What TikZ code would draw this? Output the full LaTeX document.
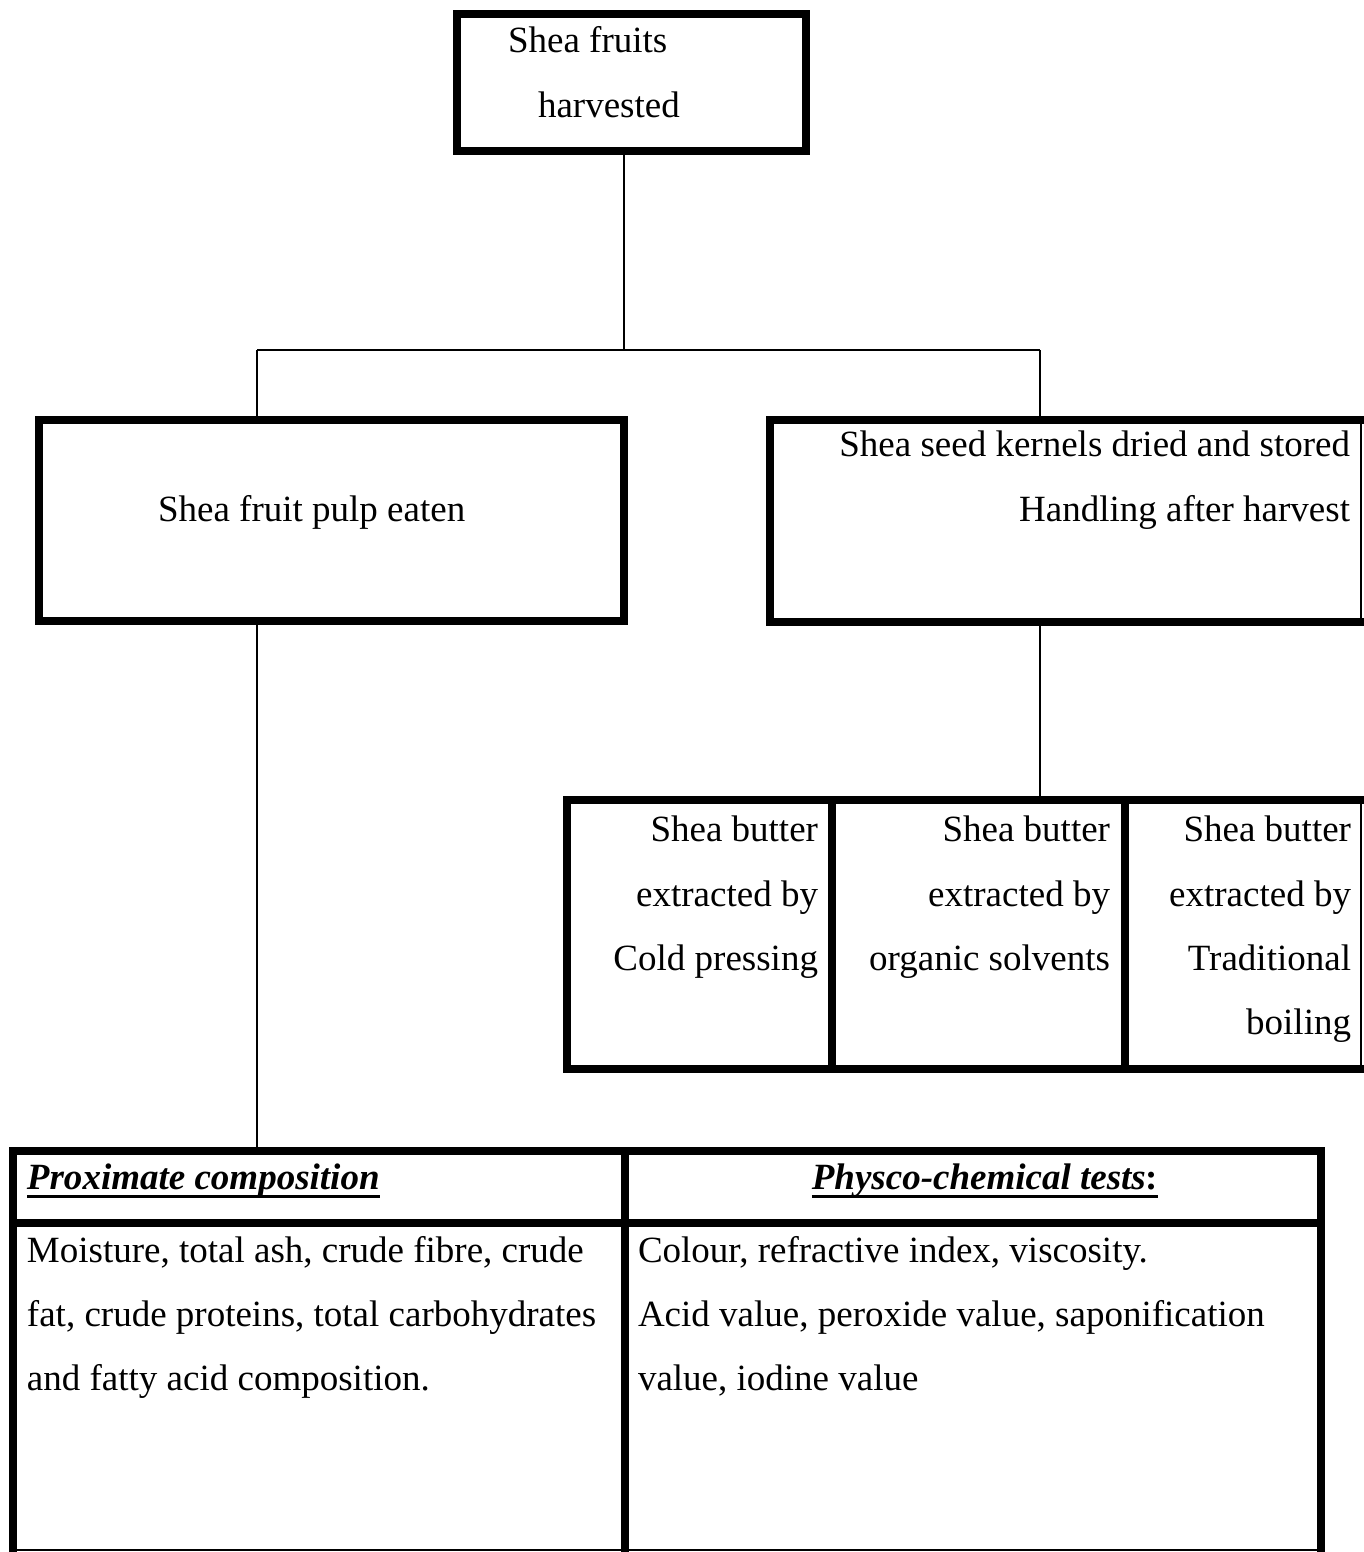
\documentclass[tikz,border=0pt]{standalone}
\usepackage{fontspec}
\setmainfont{Liberation Serif}
\begin{document}
\begin{tikzpicture}[x=1pt,y=-1pt,
  every node/.style={font=\fontsize{37}{44}\selectfont, inner sep=0pt, outer sep=0pt},
  box/.style={draw, rectangle, line width=8pt},
  link/.style={line width=2.5pt},
  edge line/.style={line width=1.5pt},
  tl/.style={anchor=base west},
  tr/.style={anchor=base east},
  hdr/.style={font=\fontsize{37}{44}\selectfont\bfseries\itshape}]
\useasboundingbox (0,0) rectangle (1364,1552);
\clip (0,0) rectangle (1364,1552);
% boxes
\node[box, minimum width=349pt, minimum height=137pt] (top) at (631.5,82.5) {};
\node[box, minimum width=585pt, minimum height=201pt] (pulp) at (331.5,520.5) {};
\node[box, minimum width=610pt, minimum height=202pt] (seed) at (1075,521) {};
\draw[edge line] (1361,416) -- (1361,626);
\node[box, minimum width=265pt, minimum height=269pt] (cold) at (699.5,934.5) {};
\node[box, minimum width=293pt, minimum height=269pt] (org) at (978.5,934.5) {};
\node[box, minimum width=255pt, minimum height=269pt] (trad) at (1252.5,934.5) {};
\draw[edge line] (1361,796) -- (1361,1073);
\node[box, minimum width=612pt, minimum height=72pt] (h1) at (319,1187) {};
\node[box, minimum width=696pt, minimum height=72pt] (h2) at (973,1187) {};
\node[box, minimum width=612pt, minimum height=357pt] (b1) at (319,1401.5) {};
\node[box, minimum width=696pt, minimum height=357pt] (b2) at (973,1401.5) {};
\draw[edge line] (13,1550) -- (1321,1550);
% connectors
\coordinate (jT) at (624,350);
\coordinate (jL) at (257,350);
\coordinate (jR) at (1040,350);
\draw[link] (top.south -| jT) -- (jT);
\draw[link] (jL) -- (jR);
\draw[link] (jL) -- (jL |- pulp.north);
\draw[link] (jR) -- (jR |- seed.north);
\draw[link] (seed.south -| jR) -- (jR |- org.north);
\draw[link] (pulp.south -| jL) -- (jL |- h1.north);
% texts
\node[tl] (t1) at (508,53) {Shea fruits};
\node[tl] (t2) at (538,118) {harvested};
\node[tl] (t3) at (158,521) {Shea fruit pulp eaten};
\node[tr] (t4) at (1350,456) {Shea seed kernels dried and stored};
\node[tr] (t5) at (1350,521) {Handling after harvest};
\node[tr] (c1) at (818,841) {Shea butter};
\node[tr] (c2) at (818,906) {extracted by};
\node[tr] (c3) at (818,970) {Cold pressing};
\node[tr] (o1) at (1110,841) {Shea butter};
\node[tr] (o2) at (1110,906) {extracted by};
\node[tr] (o3) at (1110,970) {organic solvents};
\node[tr] (r1) at (1351,841) {Shea butter};
\node[tr] (r2) at (1351,906) {extracted by};
\node[tr] (r3) at (1351,970) {Traditional};
\node[tr] (r4) at (1351,1034) {boiling};
\node[tl, hdr] (hl) at (27,1189) {Proximate composition};
\node[anchor=base, hdr] (hr) at (985,1189) {Physco-chemical tests\upshape:};
\draw[line width=3pt] ([yshift=-7pt]hl.base west) -- ([yshift=-7pt]hl.base east);
\draw[line width=3pt] ([yshift=-7pt]hr.base west) -- ([yshift=-7pt]hr.base east);
\node[tl] (m1) at (27,1262) {Moisture, total ash, crude fibre, crude};
\node[tl] (m2) at (27,1326) {fat, crude proteins, total carbohydrates};
\node[tl] (m3) at (27,1390) {and fatty acid composition.};
\node[tl] (p1) at (638,1262) {Colour, refractive index, viscosity.};
\node[tl] (p2) at (638,1326) {Acid value, peroxide value, saponification};
\node[tl] (p3) at (638,1390) {value, iodine value};
\end{tikzpicture}
\end{document}
